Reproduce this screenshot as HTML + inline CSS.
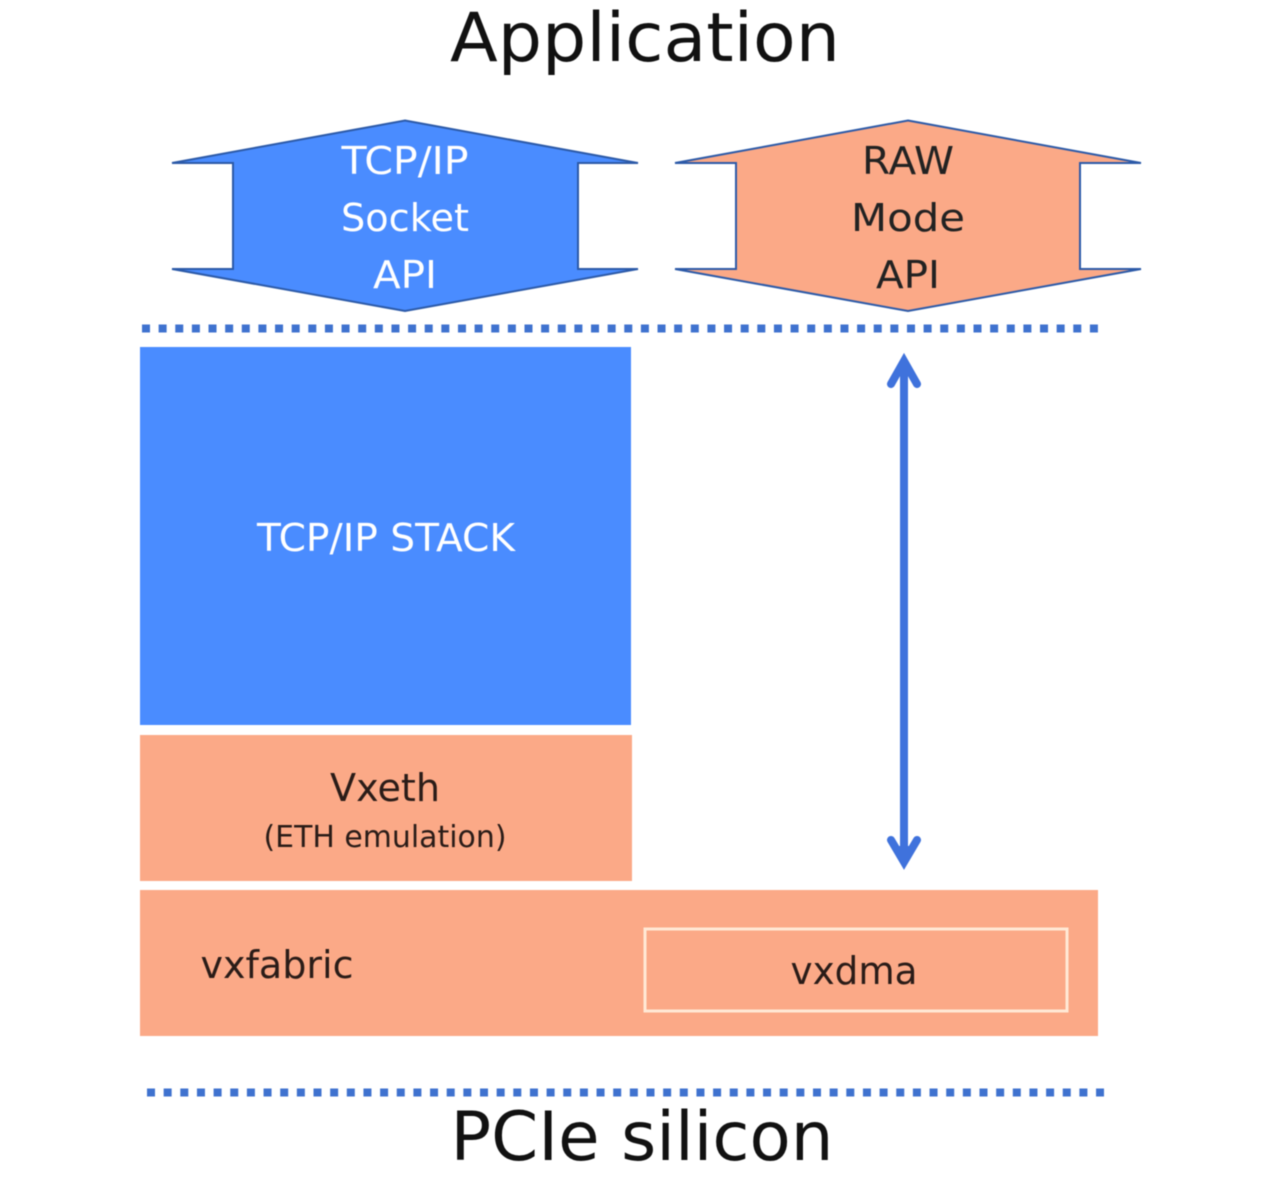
<!DOCTYPE html>
<html>
<head>
<meta charset="utf-8">
<style>
html,body{margin:0;padding:0;background:#fff;overflow:hidden;}
svg{display:block;filter:blur(0.6px);}
text{font-family:"DejaVu Sans","Liberation Sans",sans-serif;text-anchor:middle;}
</style>
</head>
<body>
<svg width="1280" height="1190" viewBox="0 0 1280 1190" xmlns="http://www.w3.org/2000/svg">
<rect width="1280" height="1190" fill="#fff"/>
<text x="645" y="61" font-size="68" fill="#111" textLength="390" lengthAdjust="spacingAndGlyphs">Application</text>

<polygon points="405,120.500 638,163 578,163 578,269 638,269 405,311 172,269 233,269 233,163 172,163" fill="#4a8cff" stroke="#2c5aa8" stroke-width="2"/>
<text x="405" y="174" font-size="38" fill="#fff" textLength="127" lengthAdjust="spacingAndGlyphs">TCP/IP</text>
<text x="405" y="231" font-size="38" fill="#fff" textLength="128" lengthAdjust="spacingAndGlyphs">Socket</text>
<text x="405" y="288" font-size="38" fill="#fff" textLength="64" lengthAdjust="spacingAndGlyphs">API</text>

<polygon points="908,120.500 1141,163 1080,163 1080,269 1141,269 908,311 675,269 736,269 736,163 675,163" fill="#fba987" stroke="#2c5aa8" stroke-width="2"/>
<text x="908" y="174" font-size="38" fill="#222" textLength="92" lengthAdjust="spacingAndGlyphs">RAW</text>
<text x="908" y="231" font-size="38" fill="#222" textLength="114" lengthAdjust="spacingAndGlyphs">Mode</text>
<text x="908" y="288" font-size="38" fill="#222" textLength="64" lengthAdjust="spacingAndGlyphs">API</text>

<line x1="142" y1="328.500" x2="1098" y2="328.500" stroke="#3f72cf" stroke-width="8" stroke-dasharray="8 8.630"/>

<rect x="140" y="347" width="491" height="378" fill="#4a8cff"/>
<text x="386" y="551" font-size="38" fill="#fff" textLength="258" lengthAdjust="spacingAndGlyphs">TCP/IP STACK</text>

<rect x="140" y="735" width="492" height="146" fill="#fba987"/>
<text x="385" y="801" font-size="38" fill="#2a1c18" textLength="110" lengthAdjust="spacingAndGlyphs">Vxeth</text>
<text x="385" y="847" font-size="30" fill="#2a1c18" textLength="243" lengthAdjust="spacingAndGlyphs">(ETH emulation)</text>

<rect x="140" y="890" width="958" height="146" fill="#fba987"/>
<text x="277" y="978" font-size="38" fill="#2a1c18" textLength="153" lengthAdjust="spacingAndGlyphs">vxfabric</text>
<rect x="645" y="929" width="422" height="82" fill="#fba987" stroke="#ffe9d6" stroke-width="3"/>
<text x="854" y="984" font-size="38" fill="#2a1c18" textLength="127" lengthAdjust="spacingAndGlyphs">vxdma</text>

<g stroke="#3f72dc" stroke-width="8" fill="none">
<line x1="904" y1="365" x2="904" y2="858"/>
<polyline points="891,384 904,361 917,384" stroke-linecap="round" stroke-linejoin="miter"/>
<polyline points="891,840 904,862 917,840" stroke-linecap="round" stroke-linejoin="miter"/>
</g>
<polygon points="904,358 895,376 913,376" fill="#3f72dc"/>
<polygon points="904,865 895,846 913,846" fill="#3f72dc"/>

<line x1="147" y1="1092.500" x2="1104" y2="1092.500" stroke="#3f72cf" stroke-width="8" stroke-dasharray="8 8.650"/>

<text x="642" y="1160" font-size="68" fill="#111" textLength="383" lengthAdjust="spacingAndGlyphs">PCIe silicon</text>
</svg>
</body>
</html>
